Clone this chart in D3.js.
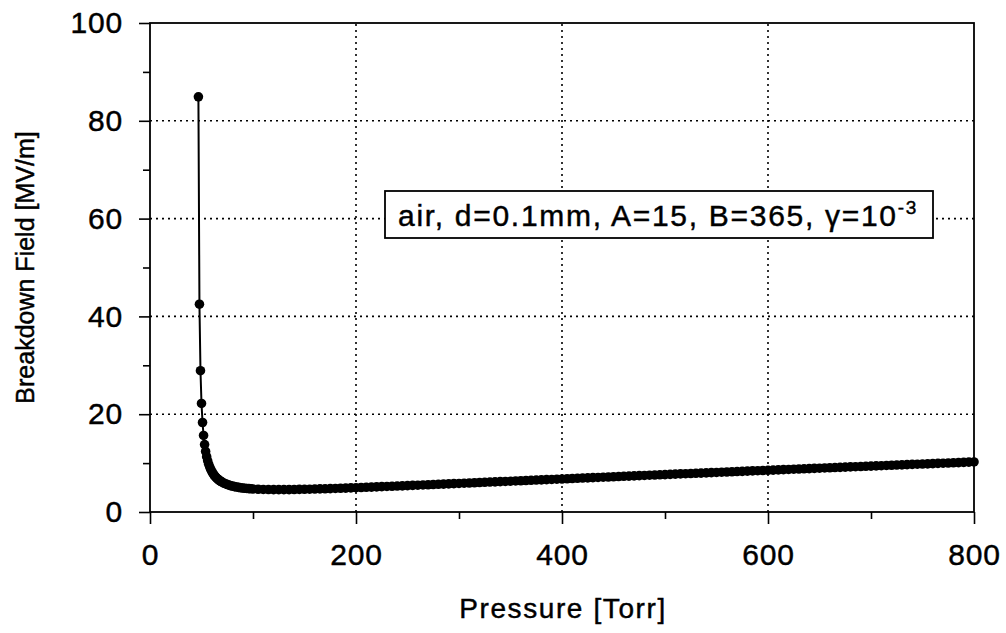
<!DOCTYPE html>
<html>

<head>
    <meta charset="utf-8">
    <script src="https://d3js.org/d3.v7.min.js"></script>
    <style>
        body { margin: 0; background: #fff; }
        text { font-family: "Liberation Sans", Arial, sans-serif; fill: #000; stroke: #000; stroke-width: 0.45px; }
    </style>
</head>

<body>
    <script>
        // pressure [Torr], dense where it turns steep
        let pressure = [47, 48, 49, 50, 51, 52, 53, 54, 55, 56, 57, 58, 59, 60, 61, 62, 63, 64, 65, 66, 67, 68, 69, 70,
            72, 74, 76, 78, 80, 82, 84, 86, 88, 90, 92, 94, 96, 98,
            100, 105, 110, 115, 120, 125, 130, 135, 140, 145, 150, 155, 160, 165, 170, 175, 180, 185, 190, 195,
            200, 205, 210, 215, 220, 225, 230, 235, 240, 245, 250, 255, 260, 265, 270, 275, 280, 285, 290, 295,
            300, 305, 310, 315, 320, 325, 330, 335, 340, 345, 350, 355, 360, 365, 370, 375, 380, 385, 390, 395,
            400, 405, 410, 415, 420, 425, 430, 435, 440, 445, 450, 455, 460, 465, 470, 475, 480, 485, 490, 495,
            500, 505, 510, 515, 520, 525, 530, 535, 540, 545, 550, 555, 560, 565, 570, 575, 580, 585, 590, 595,
            600, 605, 610, 615, 620, 625, 630, 635, 640, 645, 650, 655, 660, 665, 670, 675, 680, 685, 690, 695,
            700, 705, 710, 715, 720, 725, 730, 735, 740, 745, 750, 755, 760, 765, 770, 775, 780, 785, 790, 795, 800];

        // breakdown field [MV/m]
        let field = [84.9, 42.5, 28.9, 22.2, 18.3, 15.65, 13.78, 12.39, 11.32, 10.46, 9.76, 9.18, 8.70, 8.28, 7.93, 7.61, 7.34, 7.10, 6.89, 6.70, 6.53, 6.37, 6.23, 6.10,
            5.88, 5.70, 5.54, 5.40, 5.29, 5.19, 5.10, 5.03, 4.96, 4.90, 4.85, 4.81, 4.77, 4.74,
            4.71, 4.65, 4.61, 4.59, 4.57, 4.57, 4.57, 4.58, 4.60, 4.62, 4.64, 4.66, 4.69, 4.72, 4.75, 4.79, 4.82, 4.86, 4.89, 4.93,
            4.97, 5.01, 5.05, 5.09, 5.14, 5.18, 5.22, 5.26, 5.31, 5.35, 5.39, 5.44, 5.48, 5.53, 5.57, 5.62, 5.66, 5.71, 5.75, 5.80,
            5.84, 5.89, 5.93, 5.98, 6.03, 6.07, 6.12, 6.16, 6.21, 6.25, 6.30, 6.35, 6.39, 6.44, 6.48, 6.53, 6.57, 6.62, 6.66, 6.71,
            6.75, 6.80, 6.85, 6.89, 6.94, 6.98, 7.03, 7.07, 7.12, 7.16, 7.21, 7.25, 7.30, 7.34, 7.39, 7.43, 7.47, 7.52, 7.56, 7.61,
            7.65, 7.70, 7.74, 7.79, 7.83, 7.87, 7.92, 7.96, 8.01, 8.05, 8.09, 8.14, 8.18, 8.23, 8.27, 8.31, 8.36, 8.40, 8.44, 8.49,
            8.53, 8.57, 8.62, 8.66, 8.70, 8.75, 8.79, 8.83, 8.88, 8.92, 8.96, 9.01, 9.05, 9.09, 9.13, 9.18, 9.22, 9.26, 9.30, 9.35,
            9.39, 9.43, 9.47, 9.52, 9.56, 9.60, 9.64, 9.69, 9.73, 9.77, 9.81, 9.85, 9.90, 9.94, 9.98, 10.02, 10.06, 10.10, 10.15, 10.19, 10.23];

        let xMajor = [0, 200, 400, 600, 800];
        let xMinor = [100, 300, 500, 700];
        let yMajor = [0, 20, 40, 60, 80, 100];
        let yMinor = [10, 30, 50, 70, 90];
        let xGrid = [200, 400, 600];
        let yGrid = [20, 40, 60, 80];
        let note = "air, d=0.1mm, A=15, B=365, γ=10";
        let noteExp = "-3";

        let width = 1006,
            height = 633;
        let margin = { left: 150, right: 32, top: 23, bottom: 121 };

        let svg = d3.select("body").append("svg")
            .attr("width", width)
            .attr("height", height);

        let x = d3.scaleLinear().domain([0, 800]).range([margin.left, width - margin.right]);
        let y = d3.scaleLinear().domain([0, 100]).range([height - margin.bottom, margin.top]);

        // dotted grid
        svg.append("g").selectAll("line")
            .data(xGrid)
            .join("line")
                .attr("x1", d => x(d)).attr("x2", d => x(d))
                .attr("y1", y(0)).attr("y2", y(100))
                .attr("stroke", "#000").attr("stroke-width", 1.6)
                .attr("stroke-dasharray", "2,4");
        svg.append("g").selectAll("line")
            .data(yGrid)
            .join("line")
                .attr("x1", x(0)).attr("x2", x(800))
                .attr("y1", d => y(d)).attr("y2", d => y(d))
                .attr("stroke", "#000").attr("stroke-width", 1.6)
                .attr("stroke-dasharray", "2,4");

        // frame
        svg.append("rect")
            .attr("x", x(0)).attr("y", y(100))
            .attr("width", x(800) - x(0)).attr("height", y(0) - y(100))
            .attr("fill", "none").attr("stroke", "#000").attr("stroke-width", 1.8);

        // axes
        svg.append("g")
            .attr("transform", `translate(0,${y(0)})`)
            .call(d3.axisBottom(x).tickValues(xMajor).tickSize(12).tickPadding(20));
        svg.append("g")
            .attr("transform", `translate(0,${y(0)})`)
            .call(d3.axisBottom(x).tickValues(xMinor).tickSize(7).tickFormat(""));
        svg.append("g")
            .attr("transform", `translate(${x(0)},0)`)
            .call(d3.axisLeft(y).tickValues(yMajor).tickSize(11).tickPadding(16));
        svg.append("g")
            .attr("transform", `translate(${x(0)},0)`)
            .call(d3.axisLeft(y).tickValues(yMinor).tickSize(7).tickFormat(""));

        svg.selectAll(".domain").remove();
        svg.selectAll(".tick line").attr("stroke", "#000").attr("stroke-width", 1.6);
        svg.selectAll(".tick text")
            .style("font-family", "'Liberation Sans', Arial, sans-serif")
            .style("font-size", "30px")
            .style("letter-spacing", "0.8px")
            .attr("fill", "#000");

        // axis titles
        svg.append("text")
            .attr("x", 563)
            .attr("y", 618)
            .attr("text-anchor", "middle")
            .style("font-size", "28px")
            .style("letter-spacing", "1.6px")
            .text("Pressure [Torr]");
        svg.append("text")
            .attr("transform", `translate(34,${(y(0) + y(100)) / 2}) rotate(-90)`)
            .attr("text-anchor", "middle")
            .style("font-size", "25px")
            .text("Breakdown Field [MV/m]");

        // curve
        let pts = pressure.map((p, i) => [p, field[i]]);
        svg.append("path")
            .datum(pts)
            .attr("fill", "none")
            .attr("stroke", "#000")
            .attr("stroke-width", 2)
            .attr("d", d3.line().x(d => x(d[0])).y(d => y(d[1])));
        svg.append("g").selectAll("circle")
            .data(pts)
            .join("circle")
                .attr("cx", d => x(d[0]))
                .attr("cy", d => y(d[1]))
                .attr("r", 4.8)
                .attr("fill", "#000");

        // label box
        let box = svg.append("g");
        box.append("rect")
            .attr("x", 385).attr("y", 191)
            .attr("width", 548).attr("height", 47)
            .attr("fill", "#fff").attr("stroke", "#000").attr("stroke-width", 1.8);
        let t = box.append("text")
            .attr("x", 398).attr("y", 226)
            .style("font-size", "30px")
            .style("letter-spacing", "1.7px");
        t.append("tspan").text(note);
        t.append("tspan").attr("dy", -12).style("font-size", "19px").text(noteExp);
    </script>
</body>

</html>
